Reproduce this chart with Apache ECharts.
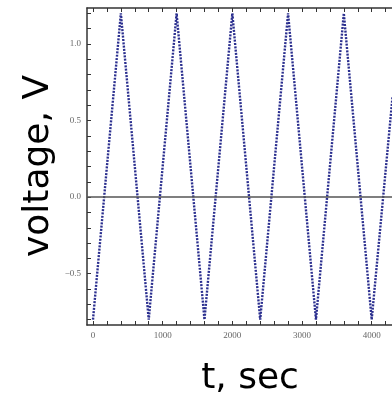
<!DOCTYPE html>
<html><head><meta charset="utf-8">
<script src="https://cdn.jsdelivr.net/npm/echarts@6/dist/echarts.min.js"></script>
<style>html,body{margin:0;padding:0;background:#fff}#c{width:392px;height:397px}</style>
</head><body><div id="c"></div>
<script>
// Triangle-wave vertices (time in s, voltage in V)
const times = [0, 400, 800, 1200, 1600, 2000, 2400, 2800, 3200, 3600, 4000, 4300];
const volts = [-0.8, 1.2, -0.8, 1.2, -0.8, 1.2, -0.8, 1.2, -0.8, 1.2, -0.8, 0.66];
const xLabels = [0, 1000, 2000, 3000, 4000];
const xTicks = [0,200,400,600,800,1000,1200,1400,1600,1800,2000,2200,2400,2600,2800,3000,3200,3400,3600,3800,4000,4200];
const yLabels = [-0.5, 0, 0.5, 1.0];
const yTicks = [-0.8,-0.7,-0.6,-0.5,-0.4,-0.3,-0.2,-0.1,0,0.1,0.2,0.3,0.4,0.5,0.6,0.7,0.8,0.9,1.0,1.1,1.2];
const xTitle = 't, sec';
const yTitle = 'voltage, V';

const chart = echarts.init(document.getElementById('c'), null, {renderer: 'canvas'});
const labelFont = {fontFamily: 'Liberation Serif', fontSize: 9, color: '#666'};
chart.setOption({
  animation: false,
  backgroundColor: '#fff',
  grid: {left: 87, right: -10, top: 8, bottom: 72, show: false, containLabel: false, outerBoundsMode: 'none'},
  graphic: [
    {type: 'text', x: 39, y: 166, rotation: Math.PI / 2,
     style: {text: yTitle, fontFamily: 'DejaVu Sans', fontSize: 36, fill: '#000', align: 'center', verticalAlign: 'middle'}},
    {type: 'text', x: 250, y: 379,
     style: {text: xTitle, fontFamily: 'DejaVu Sans', fontSize: 36, fill: '#000', align: 'center', verticalAlign: 'middle'}}
  ],
  xAxis: [{
    type: 'value', min: -86, max: 4435, position: 'bottom',
    axisLine: {show: true, onZero: false, lineStyle: {color: '#333', width: 1.5}},
    axisTick: {show: true, inside: true, length: 4, customValues: xTicks, lineStyle: {color: '#333'}},
    axisLabel: {show: true, customValues: xLabels, margin: 6, ...labelFont, formatter: v => String(v)},
    splitLine: {show: false}
  }, {
    type: 'value', min: -86, max: 4435, position: 'top',
    axisLine: {show: true, onZero: false, lineStyle: {color: '#333', width: 1.5}},
    axisTick: {show: true, inside: true, length: 4, customValues: xTicks, lineStyle: {color: '#333'}},
    axisLabel: {show: false},
    splitLine: {show: false}
  }],
  yAxis: {
    type: 'value', min: -0.835, max: 1.235,
    axisLine: {show: true, onZero: false, lineStyle: {color: '#333', width: 1.5}},
    axisTick: {show: true, inside: true, length: 4, customValues: yTicks, lineStyle: {color: '#333'}},
    axisLabel: {show: true, customValues: yLabels, margin: 6, ...labelFont,
      formatter: v => (v < 0 ? '\u2212' : '') + Math.abs(v).toFixed(1)},
    splitLine: {show: false}
  },
  series: [{
    type: 'line',
    data: times.map((t, i) => [t, volts[i]]),
    showSymbol: false,
    lineStyle: {color: '#2b2f8f', width: 2.4, type: [2, 1.3]},
    markLine: {
      silent: true, symbol: 'none', label: {show: false},
      lineStyle: {color: '#555', width: 1.5, type: 'solid'},
      data: [{yAxis: 0}]
    }
  }]
});
</script></body></html>
